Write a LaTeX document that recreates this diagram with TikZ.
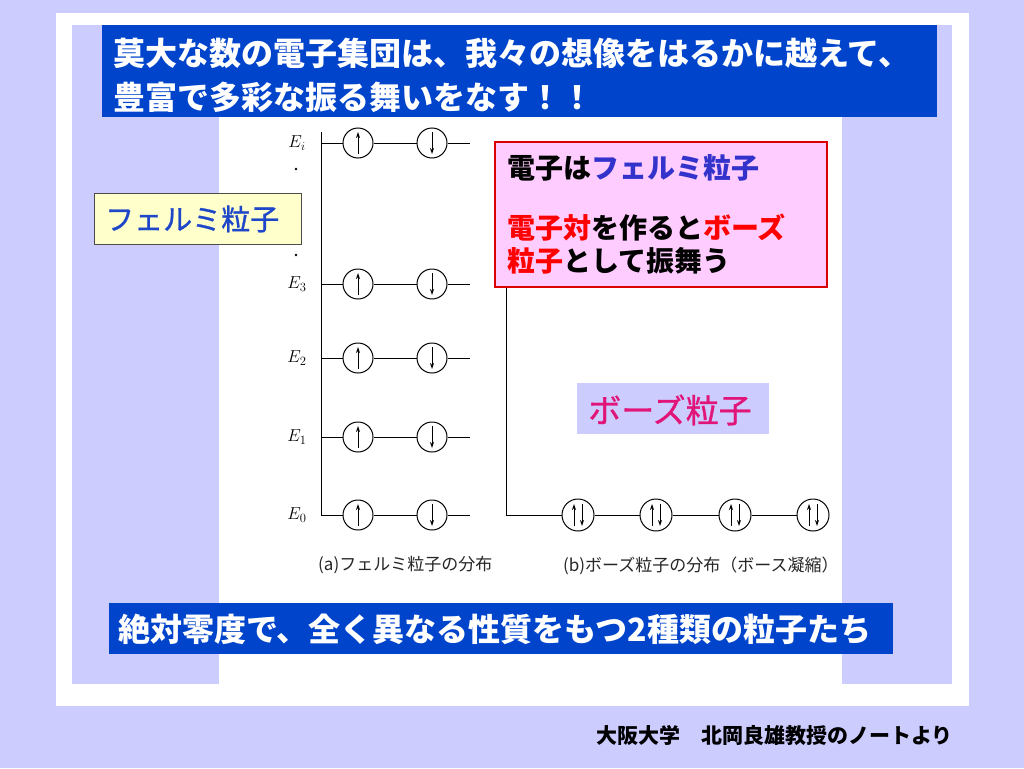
\documentclass[tikz,border=0pt]{standalone}
\usepackage{fontspec}
\usetikzlibrary{arrows.meta,calc}
\newfontfamily\jp{Noto Sans CJK JP}
\newfontfamily\jpm[FakeBold=1]{Noto Sans CJK JP}
\definecolor{lav}{RGB}{204,204,255}
\definecolor{boxblue}{RGB}{0,68,204}
\definecolor{blueT}{RGB}{51,51,204}
\definecolor{fermiT}{RGB}{30,70,200}
\definecolor{redT}{RGB}{255,0,0}
\definecolor{pinkF}{RGB}{255,204,255}
\definecolor{yelF}{RGB}{255,255,204}
\definecolor{boseT}{RGB}{225,20,120}
\tikzset{
  jtext/.style={inner sep=0pt, anchor=west, font=\jp\bfseries\fontsize{#1}{#1}\selectfont},
  jreg/.style={inner sep=0pt, anchor=west, font=\jpm\fontsize{#1}{#1}\selectfont},
  orb/.style={circle, draw=black, line width=1pt, minimum size=30pt, inner sep=0pt, fill=white},
  borb/.style={circle, draw=black, line width=1pt, minimum size=32pt, inner sep=0pt, fill=white},
  lvl/.style={draw=black, line width=1pt},
  spin/.style={line width=1pt, -{Stealth[length=6pt,width=4pt]}},
  elab/.style={inner sep=0pt, font=\fontsize{18}{18}\selectfont},
  captext/.style={inner sep=0pt, anchor=west, text=black!85, font=\jp\fontsize{17}{17}\selectfont}
}
\begin{document}
\begin{tikzpicture}[x=1pt,y=-1pt]
\fill[lav] (0,0) rectangle (1024,768);
\useasboundingbox (0,0) rectangle (1024,768);
\fill[white] (56,13) rectangle (969,706);
\fill[lav] (72,25) rectangle (952,684);
\fill[white] (219,117) rectangle (842,684);
% title
\fill[boxblue] (102,25) rectangle (937,117);
\node[jtext=32, text=white] (title1) at (113,53) {莫大な数の電子集団は、我々の想像をはるかに越えて、};
\node[jtext=32, text=white] (title2) at (113,97) {豊富で多彩な振る舞いをなす！！};
% fermi diagram
\coordinate (ftop) at (321,132);
\coordinate (fbot) at (321,515);
\draw[lvl] (ftop) -- (fbot);
\foreach \n/\y/\lab in {i/143/{E_{i}},3/284/{E_{\mathrm{3}}},2/358/{E_{\mathrm{2}}},1/437/{E_{\mathrm{1}}},0/515/{E_{\mathrm{0}}}}{
  \coordinate (s\n) at (321,\y);
  \coordinate (e\n) at (470,\y);
  \node[orb] (u\n) at (358,\y) {};
  \node[orb] (d\n) at (432,\y) {};
  \draw[lvl] (s\n) -- (u\n) (u\n) -- (d\n) (d\n) -- (e\n);
  \draw[spin] ($(u\n)+(0,11)$) -- ($(u\n)+(0,-11)$);
  \draw[spin] ($(d\n)+(0,-11)$) -- ($(d\n)+(0,11)$);
  \node[elab] (E\n) at (297,\y) {$\lab$};
}
\fill (296,169) circle (1.3pt);
\fill (296,255) circle (1.3pt);
% bose diagram
\coordinate (btop) at (506,250);
\coordinate (bcorner) at (506,515);
\draw[lvl] (btop) -- (bcorner);
\foreach \k/\x in {1/578,2/656,3/735,4/813}{
  \node[borb] (b\k) at (\x,515) {};
  \draw[spin] ($(b\k)+(-4,11)$) -- ($(b\k)+(-4,-11)$);
  \draw[spin] ($(b\k)+(4,-11)$) -- ($(b\k)+(4,11)$);
}
\draw[lvl] (bcorner) -- (b1) (b1) -- (b2) (b2) -- (b3) (b3) -- (b4);
% captions
\node[captext] (capa) at (318,565) {(a)フェルミ粒子の分布};
\node[captext] (capb) at (563,566) {(b)ボーズ粒子の分布（ボース凝縮）};
% fermi label
\node[draw=black!70, line width=0.8pt, fill=yelF, minimum width=207pt, minimum height=51pt, inner sep=0pt] (fbox) at (197.5,218.5) {};
\node[jreg=29, text=fermiT] (ftext) at (105,219) {フェルミ粒子};
% pink box
\node[draw=redT!85!black, line width=1.5pt, fill=pinkF, minimum width=332pt, minimum height=145pt, inner sep=0pt] (pbox) at (661,214.5) {};
\node[jtext=28] (p1) at (507,168) {電子は\textcolor{blueT}{フェルミ粒子}};
\node[jtext=28] (p2) at (507,228) {\textcolor{redT}{電子対}を作ると\textcolor{redT}{ボーズ}};
\node[jtext=28] (p3) at (507,261) {\textcolor{redT}{粒子}として振舞う};
% bose label
\node[fill=lav, minimum width=192pt, minimum height=51pt, inner sep=0pt] (bbox) at (673,408.5) {};
\node[inner sep=0pt, text=boseT, font=\jpm\fontsize{33}{33}\selectfont] (btext) at (670,410) {ボーズ粒子};
% bottom blue box
\fill[boxblue] (109,603) rectangle (893,654);
\node[jtext=32, text=white] (bottom) at (118,629) {絶対零度で、全く異なる性質をもつ2種類の粒子たち};
% credit
\node[jtext=21, text=black] (credit) at (596,735) {大阪大学　北岡良雄教授のノートより};
\end{tikzpicture}
\end{document}
